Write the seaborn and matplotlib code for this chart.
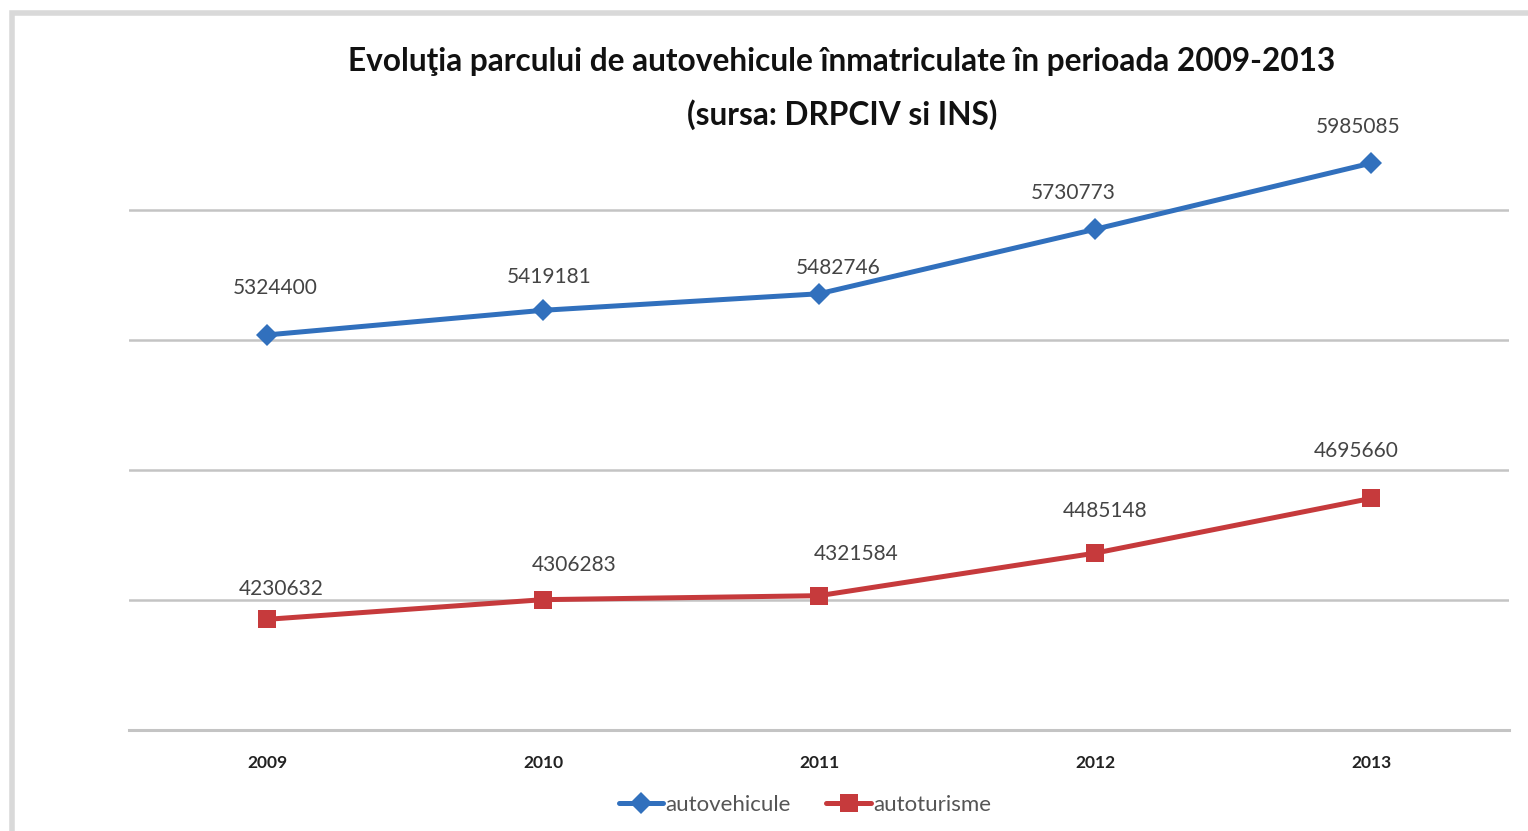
import numpy as np
import pandas as pd
import matplotlib
matplotlib.use("Agg")
import matplotlib.pyplot as plt
from matplotlib.patches import Rectangle
import seaborn as sns

# --- Datos ---
ani = ["2009", "2010", "2011", "2012", "2013"]
autovehicule = [5324400, 5419181, 5482746, 5730773, 5985085]
autoturisme = [4230632, 4306283, 4321584, 4485148, 4695660]
serii = ["autovehicule", "autoturisme"]
culori = {"autovehicule": "#3170bd", "autoturisme": "#c63a3c"}
markere = {"autovehicule": "D", "autoturisme": "s"}
marimi = {"autovehicule": 11, "autoturisme": 12.5}

# decalaje etichete (pixeli: dx, dy)
dec_auto = [(8, 47), (6, 33), (19, 26), (-22, 36), (-13, 36)]
dec_turism = [(14, 30), (31, 35), (37, 42), (10, 42), (-15, 47)]

df = pd.DataFrame({
    "an": ani * 2,
    "valoare": autovehicule + autoturisme,
    "serie": [serii[0]] * len(ani) + [serii[1]] * len(ani),
})

sns.set_style("white")
plt.rcParams["font.family"] = ["Lato", "DejaVu Sans"]

fig = plt.figure(figsize=(15.28, 8.31), dpi=100)
ax = fig.add_axes([129 / 1528, 101 / 831, 1380 / 1528, 605 / 831])

# cadru exterior gri deschis
fig.patches.append(Rectangle((12 / 1528, -0.05), 1.1, 0.05 + (831 - 13) / 831,
                             transform=fig.transFigure, fill=False,
                             edgecolor="#d9d9d9", linewidth=4))

# o serie pe rand, ca sa putem da marimi diferite la markere
for s in serii:
    sns.lineplot(data=df[df["serie"] == s], x="an", y="valoare", color=culori[s],
                 marker=markere[s], markersize=marimi[s], markeredgewidth=0,
                 linewidth=3.6, sort=False, ax=ax, legend=False)

y0 = 3805000
pas = 500000
ax.set_ylim(y0, y0 + 605 * 3846)
ax.set_xlim(-0.5, 4.5)
ax.set_yticks([y0 + pas * k for k in range(5)])
ax.set_yticklabels([])
ax.grid(axis="y", color="#c4c4c4", linewidth=1.8)
ax.grid(axis="x", visible=False)
for s in ["top", "right", "left"]:
    ax.spines[s].set_visible(False)
ax.spines["bottom"].set_color("#c4c4c4")
ax.spines["bottom"].set_linewidth(2.2)
ax.tick_params(axis="both", length=0)
ax.tick_params(axis="x", pad=18, labelsize=12.5, labelcolor="#222222")
for t in ax.get_xticklabels():
    t.set_fontweight("bold")
ax.set_xlabel("")
ax.set_ylabel("")

for vals, dec in [(autovehicule, dec_auto), (autoturisme, dec_turism)]:
    for i, v in enumerate(vals):
        ax.annotate(str(v), (i, v), xytext=(dec[i][0] * 0.72, dec[i][1] * 0.72),
                    textcoords="offset points", ha="center", va="center",
                    fontsize=15, color="#444444")

fig.text(842 / 1528, 1 - 62 / 831,
         "Evoluţia parcului de autovehicule înmatriculate în perioada 2009-2013",
         ha="center", va="center", fontsize=22.8, fontweight="bold", color="#111111")
fig.text(842 / 1528, 1 - 115 / 831, "(sursa: DRPCIV si INS)",
         ha="center", va="center", fontsize=22.8, fontweight="bold", color="#111111")

handles = [plt.Line2D([], [], color=culori[s], marker=markere[s], linewidth=3.6,
                      markersize=marimi[s], markeredgewidth=0) for s in serii]
fig.legend(handles, serii, loc="center", bbox_to_anchor=(805 / 1528, 1 - 805 / 831),
           ncol=2, frameon=False, fontsize=16, labelcolor="#555555",
           handlelength=2.0, handletextpad=0.1, columnspacing=1.6)

fig.savefig("out.png", dpi=100, facecolor="white")
